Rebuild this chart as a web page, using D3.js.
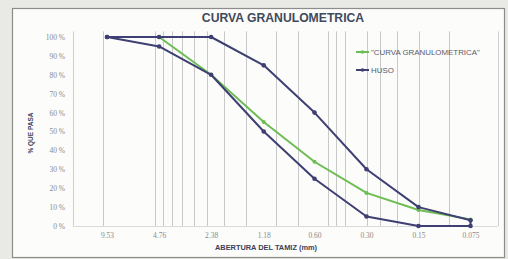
<!DOCTYPE html>
<html>
<head>
<meta charset="utf-8">
<script src="https://cdn.jsdelivr.net/npm/d3@7"></script>
<style>
  html, body { margin: 0; padding: 0; background: #e9e9e6; }
  svg { display: block; }
</style>
</head>
<body>
<svg id="chart" width="508" height="259"></svg>
<script>
// ---- data ----
const sieves = [9.53, 4.76, 2.38, 1.18, 0.60, 0.30, 0.15, 0.075];
const sieveLabels = ["9.53", "4.76", "2.38", "1.18", "0.60", "0.30", "0.15", "0.075"];
const curva = [null, 100, 80, 55, 34, 17.5, 8.5, 3.5];
const husoMin = [100, 95, 80, 50, 25, 5, 0, 0];
const husoMax = [100, 100, 100, 85, 60, 30, 10, 3];
const yTicks = [0, 10, 20, 30, 40, 50, 60, 70, 80, 90, 100];
const gridValues = [10, 5, 4.5, 4, 3.5, 3, 2.5, 2, 1.5, 1, 0.75, 0.5, 0.45, 0.4, 0.3, 0.25, 0.2, 0.15, 0.1];
const title = "CURVA GRANULOMETRICA";
const seriesNames = ["\"CURVA GRANULOMETRICA\"", "HUSO"];

// ---- layout ----
const svg = d3.select("#chart");
const colGreen = "#6cbd52";
const colNavy = "#3e3f72";

svg.append("rect").attr("x", 12.5).attr("y", 8.5).attr("width", 492).attr("height", 249)
  .attr("fill", "#fcfcfb").attr("stroke", "#8c8c8c").attr("stroke-width", 1.2);

const x = d3.scaleLog().domain([15, 0.052]).range([73, 498]);
const y = d3.scaleLinear().domain([0, 100]).range([226, 37]);

// vertical gridlines
svg.append("g").selectAll("line").data(gridValues).join("line")
  .attr("x1", d => Math.round(x(d)) + 0.5).attr("x2", d => Math.round(x(d)) + 0.5)
  .attr("y1", y(103)).attr("y2", y(0))
  .attr("stroke", "#c9c9c9").attr("stroke-width", 1);
// plot edges
svg.append("g").selectAll("line").data(x.domain()).join("line")
  .attr("x1", d => Math.round(x(d)) + 0.5).attr("x2", d => Math.round(x(d)) + 0.5)
  .attr("y1", y(103)).attr("y2", y(0))
  .attr("stroke", "#cfcfcf").attr("stroke-width", 1);
svg.append("line").attr("x1", x(15)).attr("x2", x(0.052))
  .attr("y1", Math.round(y(0)) + 0.5).attr("y2", Math.round(y(0)) + 0.5)
  .attr("stroke", "#dadada");

// y axis
const yAxis = d3.axisLeft(y).tickValues(yTicks).tickFormat(d => d + " %").tickSize(0).tickPadding(0);
const gy = svg.append("g").attr("transform", "translate(65,0)").call(yAxis);
gy.select(".domain").remove();
gy.selectAll("text").attr("font-family", "Liberation Serif, serif").attr("font-size", 7.5).attr("fill", "#8a8a8a");

// x axis
const xAxis = d3.axisBottom(x).tickValues(sieves).tickFormat((d, i) => sieveLabels[i]).tickSize(0).tickPadding(0);
const gx = svg.append("g").attr("transform", "translate(0,233)").call(xAxis);
gx.select(".domain").remove();
gx.selectAll("text").attr("font-family", "Liberation Serif, serif").attr("font-size", 7.5).attr("fill", "#8a8a8a");

// axis titles
svg.append("text").attr("x", 266).attr("y", 250).attr("text-anchor", "middle")
  .attr("font-family", "Liberation Sans, Arial, sans-serif").attr("font-weight", "bold")
  .attr("font-size", 7.4).attr("fill", "#3a3f5c").text("ABERTURA DEL TAMIZ (mm)");
svg.append("text").attr("transform", "translate(33,133) rotate(-90)").attr("text-anchor", "middle")
  .attr("font-family", "Liberation Sans, Arial, sans-serif").attr("font-weight", "bold")
  .attr("font-size", 6.5).attr("fill", "#3a3f5c").text("% QUE PASA");

// title
svg.append("text").attr("x", 283).attr("y", 22).attr("text-anchor", "middle")
  .attr("font-family", "Liberation Sans, Arial, sans-serif").attr("font-weight", "bold")
  .attr("font-size", 12.2).attr("fill", "#404a5c").text(title);

// series
const line = d3.line().defined(d => d[1] != null).x(d => x(d[0])).y(d => y(d[1]));
const curvaPts = sieves.map((s, i) => [s, curva[i]]);
const husoPts = sieves.map((s, i) => [s, husoMin[i]])
  .concat(sieves.map((s, i) => [s, husoMax[i]]).reverse());

svg.append("path").datum(curvaPts).attr("d", line)
  .attr("fill", "none").attr("stroke", colGreen).attr("stroke-width", 2);
svg.append("g").selectAll("circle").data(curvaPts.filter(d => d[1] != null)).join("circle")
  .attr("cx", d => x(d[0])).attr("cy", d => y(d[1])).attr("r", 2).attr("fill", colGreen);

svg.append("path").datum(husoPts).attr("d", line)
  .attr("fill", "none").attr("stroke", colNavy).attr("stroke-width", 2).attr("stroke-linejoin", "round");
svg.append("g").selectAll("circle").data(husoPts).join("circle")
  .attr("cx", d => x(d[0])).attr("cy", d => y(d[1])).attr("r", 2.3).attr("fill", colNavy);

// legend
const legend = svg.append("g");
[colGreen, colNavy].forEach((c, i) => {
  const ly = 52 + i * 18;
  legend.append("line").attr("x1", 356).attr("x2", 369).attr("y1", ly).attr("y2", ly)
    .attr("stroke", c).attr("stroke-width", 2);
  legend.append("circle").attr("cx", 362.5).attr("cy", ly).attr("r", 1.8).attr("fill", c);
  legend.append("text").attr("x", 371).attr("y", ly + 2.8)
    .attr("font-family", "Liberation Sans, Arial, sans-serif").attr("font-size", 7.9)
    .attr("fill", "#5a5a6a").text(seriesNames[i]);
});
</script>
</body>
</html>
